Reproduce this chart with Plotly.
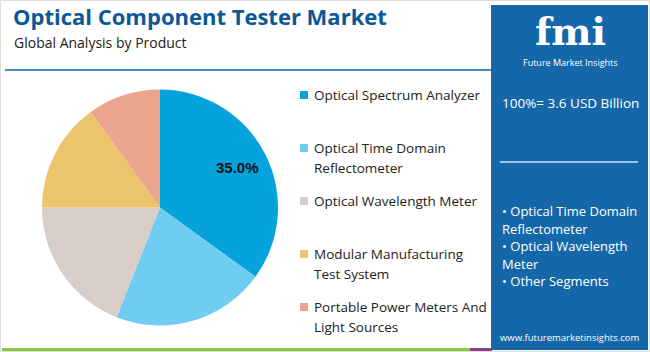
import math
import plotly.graph_objects as go

categories = ["Optical Spectrum Analyzer", "Optical Time Domain Reflectometer",
              "Optical Wavelength Meter", "Modular Manufacturing Test System",
              "Portable Power Meters And Light Sources"]
legend_lines = [["Optical Spectrum Analyzer"],
                ["Optical Time Domain", "Reflectometer"],
                ["Optical Wavelength Meter"],
                ["Modular Manufacturing", "Test System"],
                ["Portable Power Meters And", "Light Sources"]]
values = [35, 21, 19, 15, 10]
colors = ["#05a2dc", "#6ecdf1", "#d9cdc9", "#ebc46b", "#eba58d"]
panel_bullets = ["• Optical Time Domain", "Reflectometer", "• Optical Wavelength",
                 "Meter", "• Other Segments"]
total_text = "100%= 3.6 USD Billion"

W, H = 650, 352
FONT = "Open Sans"

def px(x):
    return x / W

def py(y):
    return 1 - y / H

cx, cy, r = 160, 207.5, 118

fig = go.Figure(go.Pie(
    labels=categories, values=values, sort=False, direction="clockwise", rotation=0,
    marker=dict(colors=colors, line=dict(width=0)),
    textinfo="none",
    showlegend=False, hoverinfo="label+percent",
    domain=dict(x=[px(cx - r), px(cx + r)], y=[py(cy + r), py(cy - r)]),
))

shapes = []
annotations = []

# percentage label for the largest slice, placed at its mid-angle
total = sum(values)
mid = values[0] / total / 2 * 2 * math.pi
lx = cx + 0.74 * r * math.sin(mid)
ly = cy - 0.74 * r * math.cos(mid)
annotations.append(dict(text=f"<b>{values[0] / total * 100:.1f}%</b>", x=px(lx), y=py(ly),
                        xref="paper", yref="paper", xanchor="center", yanchor="middle",
                        showarrow=False, font=dict(family="Arial", size=15, color="#111111")))

# outer light border
shapes.append(dict(type="rect", xref="paper", yref="paper", x0=px(0.5), x1=px(649.5),
                   y0=py(351.5), y1=py(0.5), line=dict(color="#dddddd", width=1)))
# divider line under subtitle
shapes.append(dict(type="line", xref="paper", yref="paper", x0=px(5), x1=px(491),
                   y0=py(70), y1=py(70), line=dict(color="#4a8cc6", width=2)))
# bottom bars
shapes.append(dict(type="rect", xref="paper", yref="paper", x0=px(2), x1=px(470),
                   y0=py(351), y1=py(348), fillcolor="#8cc63f", line=dict(width=0)))
shapes.append(dict(type="rect", xref="paper", yref="paper", x0=px(470), x1=px(492),
                   y0=py(351), y1=py(348), fillcolor="#8b3b8f", line=dict(width=0)))
# right panel
shapes.append(dict(type="rect", xref="paper", yref="paper", x0=px(491), x1=px(648),
                   y0=py(350), y1=py(5), fillcolor="#1467a9", line=dict(width=0), layer="below"))
shapes.append(dict(type="line", xref="paper", yref="paper", x0=px(500), x1=px(638),
                   y0=py(162), y1=py(162), line=dict(color="#9fc3e4", width=2)))

# title & subtitle
annotations.append(dict(text="<b>Optical Component Tester Market</b>", x=px(11), y=py(16),
                        xref="paper", yref="paper", xanchor="left", yanchor="middle",
                        showarrow=False, font=dict(family=FONT, size=22, color="#0b5896")))
annotations.append(dict(text="Global Analysis by Product", x=px(12), y=py(42),
                        xref="paper", yref="paper", xanchor="left", yanchor="middle",
                        showarrow=False, font=dict(family=FONT, size=14, color="#222222")))

# legend
leg_y = [95, 148, 201, 254, 307]
for i, lines in enumerate(legend_lines):
    y0 = leg_y[i]
    shapes.append(dict(type="rect", xref="paper", yref="paper", x0=px(300), x1=px(308),
                       y0=py(y0 + 4), y1=py(y0 - 4), fillcolor=colors[i], line=dict(width=0)))
    for j, ln in enumerate(lines):
        annotations.append(dict(text=ln, x=px(312), y=py(y0 + 19.5 * j), xref="paper", yref="paper",
                                xanchor="left", yanchor="middle", showarrow=False,
                                font=dict(family=FONT, size=13.5, color="#222222")))

# logo
annotations.append(dict(text="<b>fmi</b>", x=px(570), y=py(31), xref="paper", yref="paper",
                        xanchor="center", yanchor="middle", showarrow=False,
                        font=dict(family="DejaVu Serif", size=38, color="white")))
annotations.append(dict(text="Future Market Insights", x=px(570), y=py(62.5), xref="paper", yref="paper",
                        xanchor="center", yanchor="middle", showarrow=False,
                        font=dict(family=FONT, size=9, color="white")))

# panel text
annotations.append(dict(text=total_text, x=px(570), y=py(103), xref="paper", yref="paper",
                        xanchor="center", yanchor="middle", showarrow=False,
                        font=dict(family=FONT, size=13.5, color="white")))
bul_y = [211, 228.5, 246, 263.5, 281]
for t, yy in zip(panel_bullets, bul_y):
    annotations.append(dict(text=t, x=px(500), y=py(yy), xref="paper", yref="paper",
                            xanchor="left", yanchor="middle", showarrow=False,
                            font=dict(family=FONT, size=13, color="white")))
annotations.append(dict(text="www.futuremarketinsights.com", x=px(570), y=py(337), xref="paper", yref="paper",
                        xanchor="center", yanchor="middle", showarrow=False,
                        font=dict(family=FONT, size=9.5, color="white")))

fig.update_layout(width=W, height=H, margin=dict(l=0, r=0, t=0, b=0),
                  paper_bgcolor="white", plot_bgcolor="white",
                  shapes=shapes, annotations=annotations)
fig.write_html("out.html", config={"displayModeBar": False})
